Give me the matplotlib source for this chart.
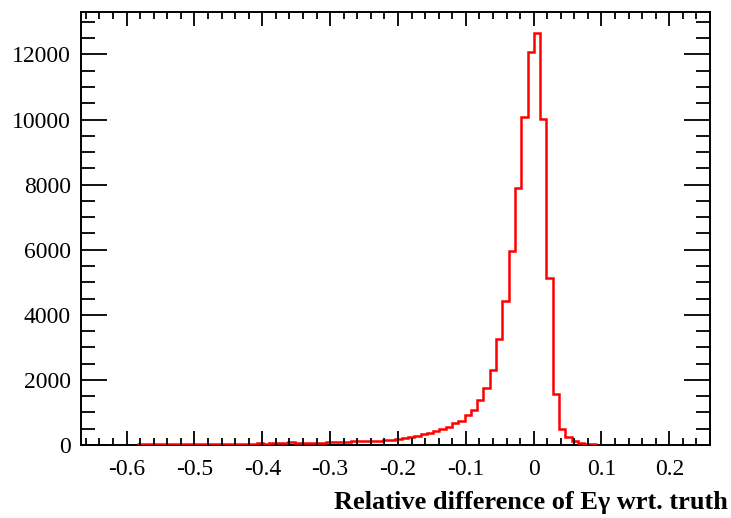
import numpy as np
import matplotlib
matplotlib.use("Agg")
import matplotlib.pyplot as plt
from matplotlib.ticker import MultipleLocator, FixedLocator

# Histogram binning (ROOT auto-range, 100 bins)
x_low = -0.6677
x_high = 0.26
n_bins = 100

# Bin contents (bins 0..99)
counts_leading_zero = [0] * 9
counts_far_tail = [28, 30, 29, 31, 32, 31, 33, 32, 34, 35, 34, 36, 35, 38, 39,
                   41, 40, 43, 45, 47, 46, 49,
                   60, 62, 85, 65, 66, 70, 68, 72,
                   95, 98, 100, 103, 120, 118, 125,
                   128, 135, 145]
counts_near_tail = [154, 194, 224, 255, 286, 338, 378, 430, 501, 553, 667,
                    738, 922, 1076, 1383]
counts_peak = [1742, 2305, 3248, 4425, 5962, 7907, 10080, 12086, 12670,
               10009, 5141, 1558, 492, 255, 132, 70, 35, 20]
counts_trailing_zero = [0] * 18

values = np.array(counts_leading_zero + counts_far_tail + counts_near_tail
                  + counts_peak + counts_trailing_zero, dtype=float)
edges = np.linspace(x_low, x_high, n_bins + 1)

x_ticks = [-0.6, -0.5, -0.4, -0.3, -0.2, -0.1, 0.0, 0.1, 0.2]
x_tick_labels = ["-0.6", "-0.5", "-0.4", "-0.3", "-0.2", "-0.1", "0", "0.1", "0.2"]
y_ticks = [0, 2000, 4000, 6000, 8000, 10000, 12000]
y_tick_labels = ["0", "2000", "4000", "6000", "8000", "10000", "12000"]
x_title = "Relative difference of E\u03b3 wrt. truth"

plt.rcParams['font.family'] = ['Liberation Serif', 'DejaVu Serif']

fig = plt.figure(figsize=(7.31, 5.18), dpi=100)
ax = fig.add_axes([0.1104, 0.1409, 0.9713 - 0.1104, 0.9768 - 0.1409])

nz = np.nonzero(values)[0]
i0, i1 = nz[0], nz[-1] + 1
ax.stairs(values[i0:i1], edges[i0:i1 + 1], color='red', linewidth=1.8,
          baseline=None, zorder=2.7)

ax.set_xlim(x_low, x_high)
ax.set_ylim(0, 1.05 * values.max())

ax.xaxis.set_major_locator(FixedLocator(x_ticks))
ax.set_xticklabels(x_tick_labels)
ax.xaxis.set_minor_locator(MultipleLocator(0.02))
ax.yaxis.set_major_locator(FixedLocator(y_ticks))
ax.set_yticklabels(y_tick_labels)
ax.yaxis.set_minor_locator(MultipleLocator(500))

ax.tick_params(axis='both', which='both', direction='in', top=True, right=True,
               colors='black', width=1.3)
ax.tick_params(axis='x', which='major', length=10, pad=10, labelsize=17)
ax.tick_params(axis='x', which='minor', length=5)
ax.tick_params(axis='y', which='major', length=19, pad=7, labelsize=17)
ax.tick_params(axis='y', which='minor', length=10)
ax.xaxis.set_zorder(3)
ax.yaxis.set_zorder(3)

for s in ax.spines.values():
    s.set_linewidth(1.4)
    s.set_zorder(2.5)

fig.text(0.9959, 1 - 509 / 518, x_title, ha='right', va='baseline',
         fontsize=19, fontweight='bold')

fig.savefig("out.png", dpi=100)
